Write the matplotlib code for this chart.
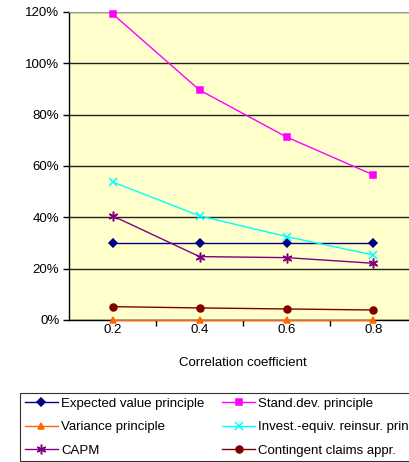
import matplotlib.pyplot as plt
from matplotlib.ticker import FuncFormatter

plt.rcParams['font.family'] = ['Liberation Sans', 'DejaVu Sans']

correlacao = ['0.2', '0.4', '0.6', '0.8']
valor_esperado = [30, 30, 30, 30]
desvio_padrao = [119.3, 89.6, 71.3, 56.5]
variancia = [0, 0, 0, 0]
invest_equiv = [53.8, 40.6, 32.5, 25.3]
capm = [40.6, 24.7, 24.3, 22.1]
contingent = [5.2, 4.7, 4.3, 3.9]

fig = plt.figure(figsize=(4.10, 4.62), dpi=100)
ax = fig.add_axes([69/410, 142/462, 348/410, 308/462])
ax.set_facecolor('#FFFFCC')

x = range(len(correlacao))
series = [
    (valor_esperado, 'Expected value principle', '#000080', 'D', 4.5),
    (desvio_padrao, 'Stand.dev. principle', '#FF00FF', 's', 5),
    (variancia, 'Variance principle', '#FF6600', '^', 5),
    (invest_equiv, 'Invest.-equiv. reinsur. principle', '#00FFFF', 'x', 6),
    (capm, 'CAPM', '#800080', (6, 2, 0), 7),
    (contingent, 'Contingent claims appr.', '#800000', 'o', 5),
]
for vals, nome, cor, marc, ms in series:
    ax.plot(x, vals, color=cor, marker=marc, markersize=ms, linewidth=1,
            markeredgewidth=1.1, label=nome, clip_on=False, zorder=3)

ax.set_xlim(-0.5, 3.5)
ax.set_ylim(0, 120)
ax.set_yticks(range(0, 121, 20))
ax.yaxis.set_major_formatter(FuncFormatter(lambda v, p: '%d%%' % v))
ax.yaxis.grid(True, color='#222222', linewidth=1)
ax.set_axisbelow(True)

ax.set_xticks(list(x))
ax.set_xticklabels(correlacao)
ax.set_xticks([0.5, 1.5, 2.5], minor=True)
ax.tick_params(axis='x', which='major', length=0, pad=3, labelsize=9.5)
ax.tick_params(axis='x', which='minor', length=4, direction='out', width=1)
ax.tick_params(axis='y', length=4, direction='out', width=1, labelsize=9.5, pad=3)
ax.set_xlabel('Correlation coefficient', fontsize=9.5, labelpad=15)

ax.spines['right'].set_visible(False)
ax.spines['top'].set_color('#999999')
ax.spines['left'].set_linewidth(1)
ax.spines['bottom'].set_linewidth(1)

handles, labels = ax.get_legend_handles_labels()
ordem = [0, 2, 4, 1, 3, 5]
leg = fig.legend([handles[i] for i in ordem], [labels[i] for i in ordem],
                 loc='upper left', bbox_to_anchor=(20/410, 1 - 393/462),
                 ncol=2, fontsize=9.5, frameon=True, fancybox=False,
                 handlelength=2.5, handletextpad=0.25, columnspacing=1.35,
                 labelspacing=0.85, borderpad=0.35, borderaxespad=0)
leg.get_frame().set_edgecolor('black')
leg.get_frame().set_linewidth(0.8)

fig.savefig('out.png', dpi=100)
